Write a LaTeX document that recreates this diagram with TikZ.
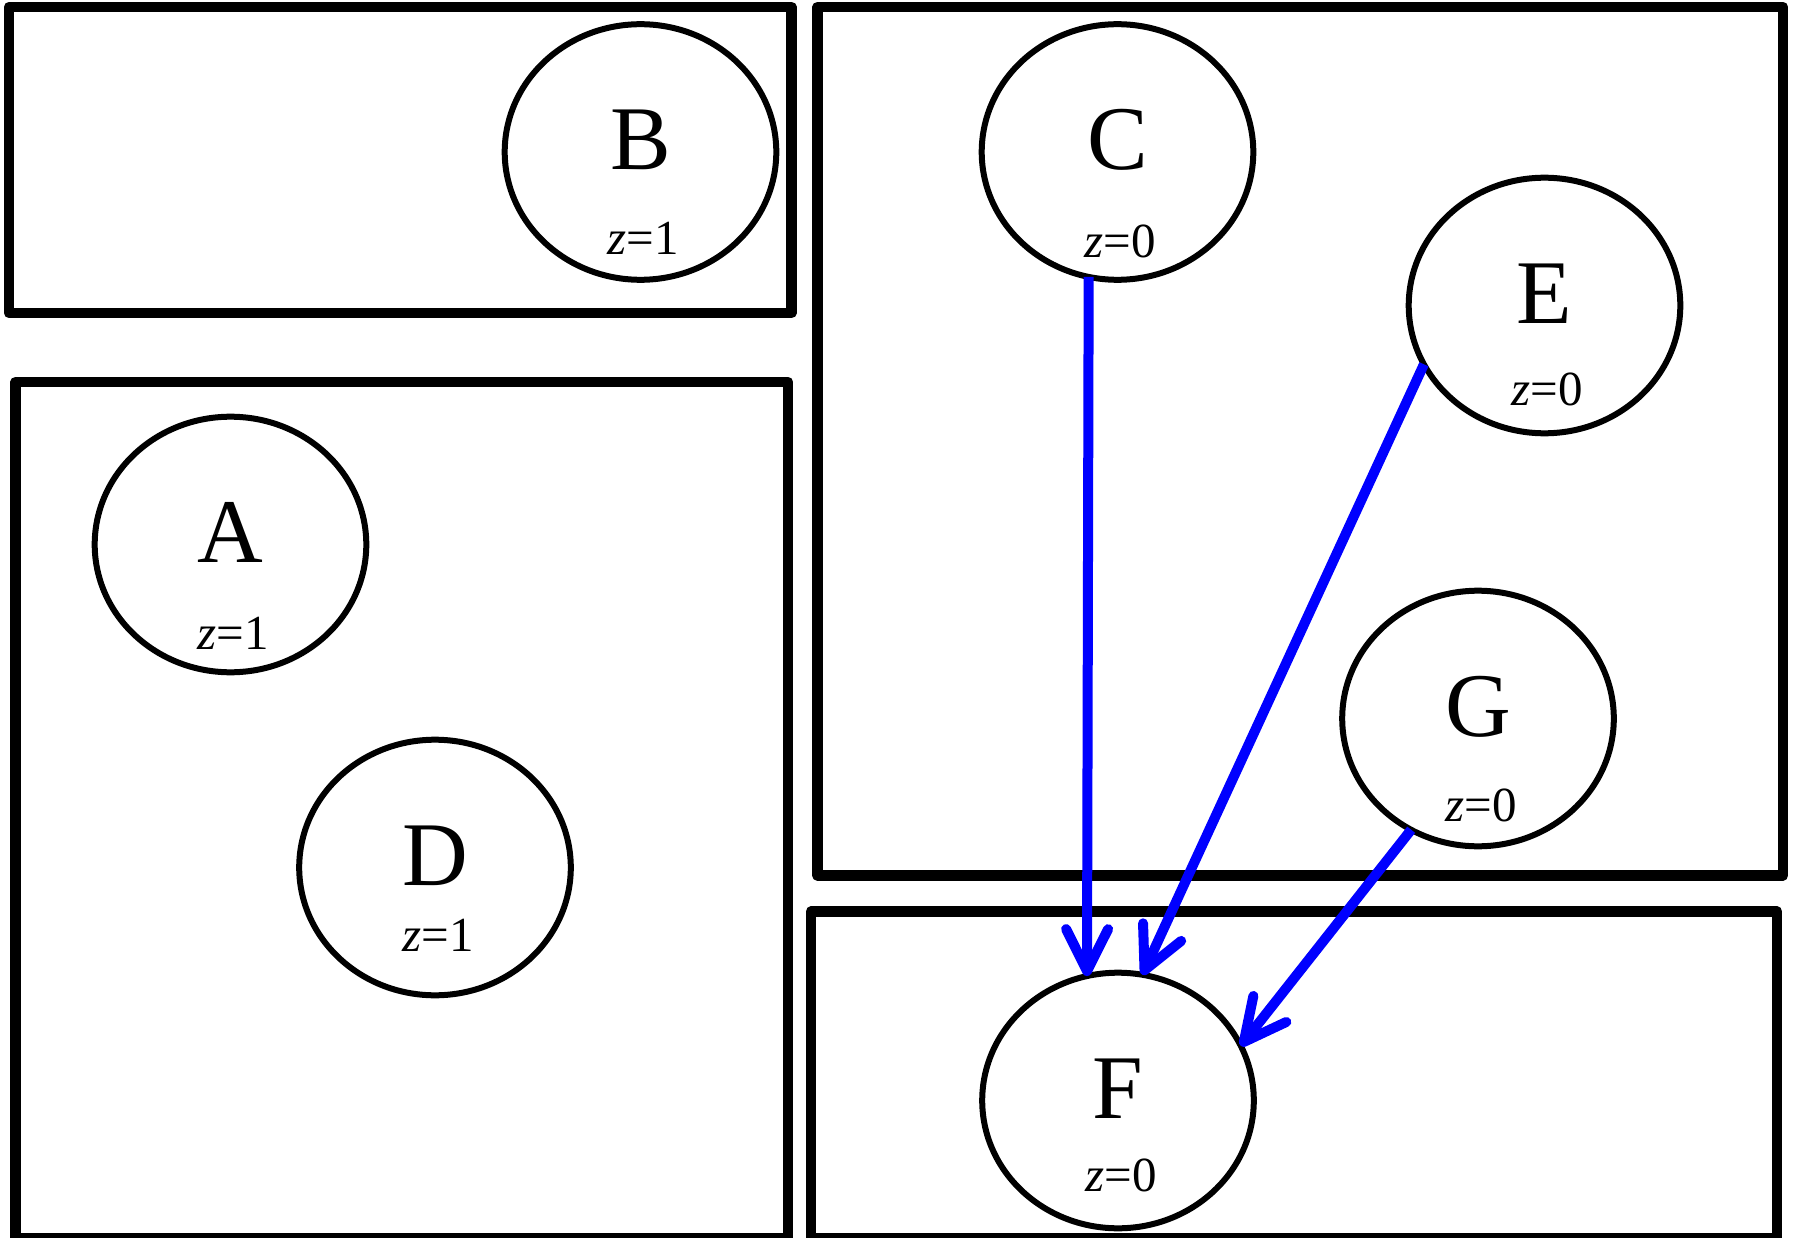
\documentclass[tikz,border=0pt]{standalone}
\usepackage{fontspec}
\setmainfont{Liberation Serif}
\usetikzlibrary{shapes.geometric,arrows.meta}

\begin{document}
\begin{tikzpicture}[x=1pt, y=-1pt,
        cluster/.style={line width=10.5pt, line join=round},
        varnode/.style={draw, ellipse, line width=6pt, minimum width=271.6pt, minimum height=255.6pt,
            inner sep=0pt, outer sep=0pt, font=\fontsize{91}{100}\selectfont, text height=60pt, text depth=24pt},
        zval/.style={font=\fontsize{49}{55}\selectfont, text height=33pt, text depth=0pt, inner sep=0pt, xshift=3pt},
        link/.style={blue, line width=10pt, -{Straight Barb[length=42pt, width=42pt, round]}}]
        \useasboundingbox (0,0) rectangle (1793,1238);

        % Clusters
        \draw[cluster] (9,7) rectangle (791.5,313);      % top left
        \draw[cluster] (15.5,382) rectangle (788,1238);  % bottom left
        \draw[cluster] (817.5,7) rectangle (1783,875.5); % top right
        \draw[cluster] (811,911.5) rectangle (1777,1238); % bottom right

        % Variables with z=1
        \node[varnode, label={[zval, yshift=-86pt]center:{\textit{z}=1}}] (B) at (640.5,152) {B};
        \node[varnode, label={[zval, yshift=-88.5pt]center:{\textit{z}=1}}] (A) at (230.5,544.5) {A};
        \node[varnode, label={[zval, yshift=-67pt]center:{\textit{z}=1}}] (D) at (435,867.5) {D};

        % Variables with z=0
        \node[varnode, label={[zval, yshift=-89pt]center:{\textit{z}=0}}] (C) at (1117.5,152) {C};
        \node[varnode, label={[zval, yshift=-83.5pt]center:{\textit{z}=0}}] (E) at (1544.5,305.5) {E};
        \node[varnode, label={[zval, yshift=-86.5pt]center:{\textit{z}=0}}] (G) at (1478,718.5) {G};
        \node[varnode, label={[zval, yshift=-74.5pt]center:{\textit{z}=0}}] (F) at (1118,1100.5) {F};

        % Links into F
        \draw[link] (C.257) -- (F.104);
        \draw[link] (E.206) -- (F.79);
        \draw[link] (G.239) -- (F.24);

    \end{tikzpicture}
\end{document}
